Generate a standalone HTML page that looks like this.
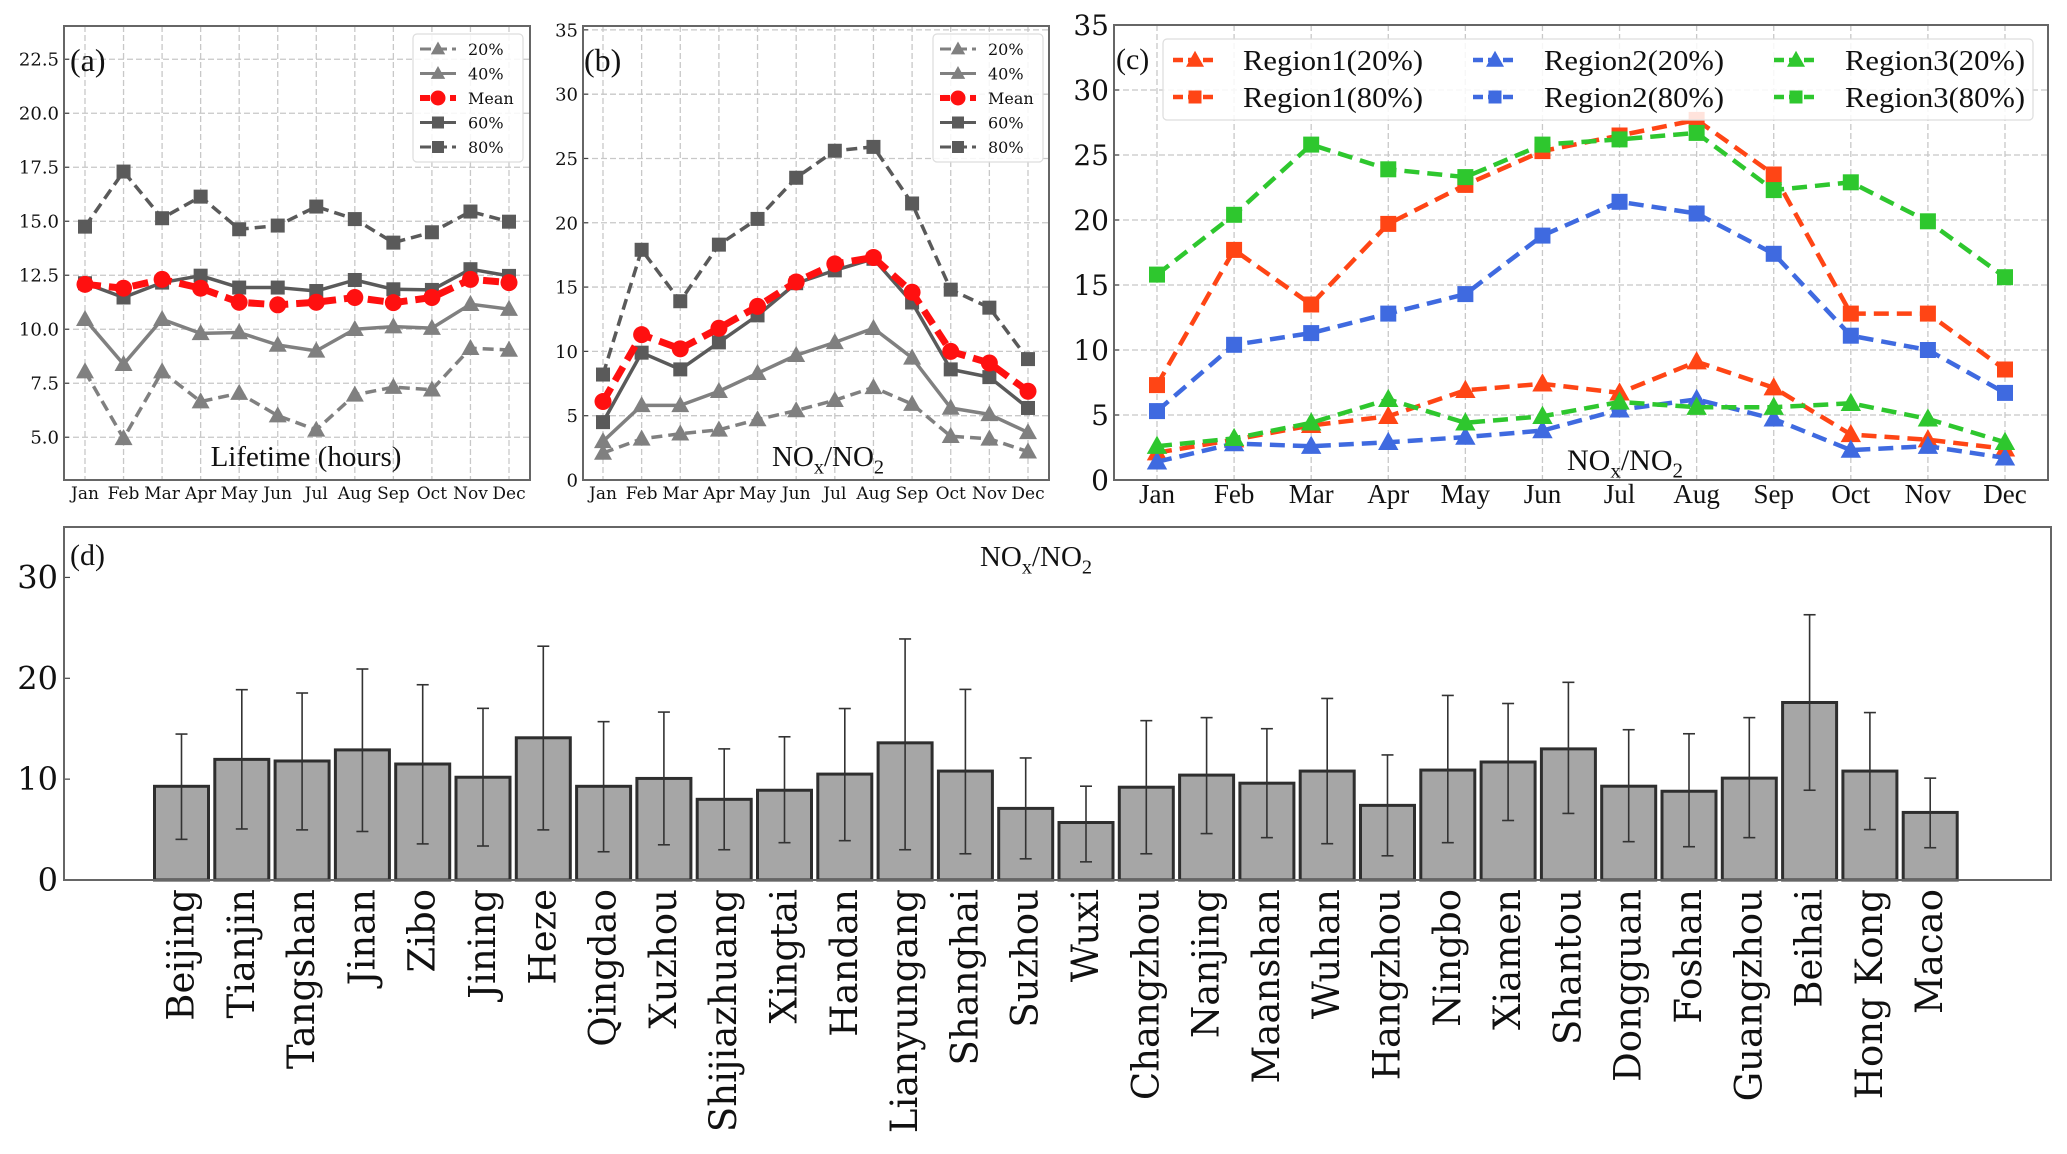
<!DOCTYPE html>
<html><head><meta charset="utf-8"><style>
html,body{margin:0;padding:0;background:#fff;}
svg{display:block;}
</style></head><body>
<svg id="fig" width="2067" height="1154" viewBox="0 0 2067 1154" xmlns="http://www.w3.org/2000/svg"></svg>
<script>
// ---------- data ----------
const months = ["Jan","Feb","Mar","Apr","May","Jun","Jul","Aug","Sep","Oct","Nov","Dec"];
// panel a: lifetime (hours)
const lifeP20 = [8.04,4.95,8.04,6.65,7.04,6.0,5.34,6.96,7.32,7.2,9.12,9.04];
const lifeP40 = [10.46,8.38,10.46,9.81,9.85,9.27,9.0,10.0,10.12,10.05,11.16,10.93];
const lifeMean = [12.08,11.9,12.31,11.9,11.25,11.13,11.25,11.47,11.23,11.47,12.31,12.16];
const lifeP60 = [12.13,11.47,12.16,12.48,11.93,11.93,11.77,12.28,11.85,11.82,12.78,12.47];
const lifeP80 = [14.75,17.3,15.14,16.14,14.63,14.8,15.68,15.1,14.01,14.49,15.45,14.98];
const lifeTicks = ["5.0","7.5","10.0","12.5","15.0","17.5","20.0","22.5"];
// panel b: NOx/NO2
const ratP20 = [2.1,3.2,3.6,3.9,4.7,5.4,6.2,7.2,5.9,3.4,3.2,2.2];
const ratP40 = [3.0,5.8,5.8,6.9,8.3,9.7,10.7,11.8,9.5,5.6,5.1,3.7];
const ratMean = [6.1,11.3,10.2,11.8,13.5,15.4,16.8,17.3,14.6,10.0,9.1,6.9];
const ratP60 = [4.5,9.9,8.6,10.7,12.8,15.3,16.3,17.2,13.8,8.6,8.0,5.6];
const ratP80 = [8.2,17.9,13.9,18.3,20.3,23.5,25.6,25.9,21.5,14.8,13.4,9.4];
const ratTicks = ["0","5","10","15","20","25","30","35"];
// panel c: regions
const r1p20 = [2.1,3.1,4.2,4.9,6.9,7.4,6.7,9.1,7.1,3.5,3.1,2.4];
const r1p80 = [7.3,17.7,13.5,19.7,22.7,25.3,26.5,27.7,23.5,12.8,12.8,8.5];
const r2p20 = [1.4,2.8,2.6,2.9,3.3,3.8,5.4,6.2,4.7,2.3,2.6,1.7];
const r2p80 = [5.3,10.4,11.3,12.8,14.3,18.8,21.4,20.5,17.4,11.1,10.0,6.7];
const r3p20 = [2.6,3.2,4.4,6.2,4.4,4.9,6.0,5.6,5.6,5.9,4.7,2.9];
const r3p80 = [15.8,20.4,25.8,23.9,23.3,25.8,26.2,26.7,22.3,22.9,19.9,15.6];
const regTicks = ["0","5","10","15","20","25","30","35"];
// panel d: cities
const cities = ["Beijing","Tianjin","Tangshan","Jinan","Zibo","Jining","Heze","Qingdao","Xuzhou","Shijiazhuang","Xingtai","Handan","Lianyungang","Shanghai","Suzhou","Wuxi","Changzhou","Nanjing","Maanshan","Wuhan","Hangzhou","Ningbo","Xiamen","Shantou","Dongguan","Foshan","Guangzhou","Beihai","Hong Kong","Macao"];
const cityMean = [9.29,11.96,11.8,12.9,11.5,10.19,14.1,9.29,10.07,8.0,8.9,10.5,13.6,10.8,7.1,5.7,9.2,10.4,9.6,10.8,7.4,10.9,11.7,13.0,9.3,8.8,10.1,17.6,10.8,6.7];
const cityHigh = [14.47,18.87,18.54,20.92,19.36,17.02,23.18,15.7,16.65,13.0,14.2,17.0,23.9,18.9,12.1,9.3,15.8,16.1,15.0,18.0,12.4,18.3,17.5,19.6,14.9,14.5,16.1,26.3,16.6,10.1];
const cityLow = [4.03,5.06,4.97,4.81,3.58,3.37,4.97,2.8,3.49,3.0,3.7,3.9,3.0,2.6,2.1,1.8,2.6,4.6,4.2,3.6,2.4,3.7,5.9,6.6,3.8,3.3,4.2,8.9,5.0,3.2];
const cityTicks = ["0","10","20","30"];

// ---------- helpers ----------
const NS = "http://www.w3.org/2000/svg";
const fig = document.getElementById("fig");
function mk(tag, attrs, parent){
  const e = document.createElementNS(NS, tag);
  for (const k in attrs) e.setAttribute(k, attrs[k]);
  (parent||fig).appendChild(e);
  return e;
}
function marker(g, kind, x, y, s, color){
  let m;
  if (kind === "tri"){
    m = mk("polygon",{points:`${x},${y-s*0.62} ${x-s*0.6},${y+s*0.45} ${x+s*0.6},${y+s*0.45}`,fill:color},g);
  } else if (kind === "sq"){
    m = mk("rect",{x:x-s/2,y:y-s/2,width:s,height:s,fill:color},g);
  } else {
    m = mk("circle",{cx:x,cy:y,r:s/2,fill:color},g);
  }
  
  
  return m;
}
function linePanel(cfg){
  const g = mk("g",{});
  
  
  const sy = v => cfg.y1 - (v - cfg.ymin)/(cfg.ymax - cfg.ymin)*(cfg.y1 - cfg.y0);
  const sx = i => cfg.xJan + i*(cfg.xDec - cfg.xJan)/11;
  cfg.ticks.forEach(t=>{
    const y = sy(parseFloat(t));
    if (y < cfg.y0+1 || y > cfg.y1-1) return;
    const gl = mk("line",{x1:cfg.x0,x2:cfg.x1,y1:y,y2:y,stroke:"#c8c8c8","stroke-width":1.3,"stroke-dasharray":"6,3"},g);
    
    
  });
  months.forEach((m,i)=>{
    const x = sx(i);
    const gl = mk("line",{x1:x,x2:x,y1:cfg.y0,y2:cfg.y1,stroke:"#c8c8c8","stroke-width":1.3,"stroke-dasharray":"6,3"},g);
    
    
  });
  cfg.ticks.forEach(t=>{
    const y = sy(parseFloat(t));
    const tm = mk("line",{x1:cfg.x0,x2:cfg.x0+5,y1:y,y2:y,stroke:"#444","stroke-width":1.2},g);
    
    
    const tx = mk("text",{x:cfg.x0-5,y:y+cfg.tf*0.36,"text-anchor":"end","font-family":"DejaVu Serif, serif","font-size":cfg.tf,fill:"#111"},g);
    tx.textContent = t;
    
    
  });
  months.forEach((m,i)=>{
    const tx = mk("text",{x:sx(i),y:cfg.y1+cfg.mf+cfg.mo,"text-anchor":"middle","font-family":cfg.mfam,"font-size":cfg.mf,fill:"#111"},g);
    tx.textContent = m;
    
    
  });
  cfg.series.forEach(s=>{
    const sg = mk("g",{},g);
    
    
    const pts = s.data.map((v,i)=>`${sx(i)},${sy(v)}`).join(" ");
    const pl = mk("polyline",{points:pts,fill:"none",stroke:s.color,"stroke-width":s.w,"stroke-dasharray":s.dash||"none","stroke-linejoin":"round"},sg);
    
    
    s.data.forEach((v,i)=>marker(sg, s.mk, sx(i), sy(v), s.ms, s.color));
  });
  const fr = mk("rect",{x:cfg.x0,y:cfg.y0,width:cfg.x1-cfg.x0,height:cfg.y1-cfg.y0,fill:"none",stroke:"#666","stroke-width":2},g);
  
  
  return g;
}
function legend(x,y,w,h,entries,opts){
  const g = mk("g",{});
  
  
  const bx = mk("rect",{x:x,y:y,width:w,height:h,rx:4,fill:"#fff","fill-opacity":0.85,stroke:"#ddd","stroke-width":1.2},g);
  
  
  entries.forEach(e=>{
    const eg = mk("g",{},g);
    
    
    mk("line",{x1:e.lx1,x2:e.lx2,y1:e.y,y2:e.y,stroke:e.color,"stroke-width":e.w,"stroke-dasharray":e.dash||"none"},eg);
    marker(eg, e.mk, (e.lx1+e.lx2)/2, e.y, e.ms, e.color);
    const t = mk("text",{x:e.tx,y:e.y+opts.fs*0.36,"font-family":opts.fam,"font-size":opts.fs,fill:"#111"},eg);
    if (opts.tl) t.setAttribute("textLength", opts.tl), t.setAttribute("lengthAdjust","spacingAndGlyphs");
    t.textContent = e.label;
  });
}
function txt(x,y,str,fs,fam,anchor,name){
  const t = mk("text",{x:x,y:y,"font-family":fam,"font-size":fs,"text-anchor":anchor||"start",fill:"#111"});
  t.textContent = str;
  
  
  return t;
}
function noxLabel(cx, y, fs, name){
  const t = mk("text",{x:cx,y:y,"font-family":"Liberation Serif, serif","font-size":fs,"text-anchor":"middle",fill:"#111"});
  
  
  t.innerHTML = 'NO<tspan dy="'+fs*0.25+'" font-size="'+fs*0.7+'">x</tspan><tspan dy="'+(-fs*0.25)+'">/NO</tspan><tspan dy="'+fs*0.25+'" font-size="'+fs*0.7+'">2</tspan>';
}
const GL = "#808080", GD = "#5a5a5a", RED = "#ff1010";
const SERIF = "Liberation Serif, serif";

// ---------- panel a ----------
linePanel({name:"panel-a-lifetime",x0:64,x1:530,y0:26,y1:480,ymin:3.02,ymax:24.04,xJan:85,xDec:509,
  ticks:lifeTicks,tf:18,mf:17,mo:2,mfam:"DejaVu Serif, serif",
  series:[
    {name:"p20-series",data:lifeP20,color:GL,w:3.5,dash:"11,6",mk:"tri",ms:15},
    {name:"p40-series",data:lifeP40,color:GL,w:3.5,mk:"tri",ms:15},
    {name:"p80-series",data:lifeP80,color:GD,w:3.5,dash:"11,6",mk:"sq",ms:14},
    {name:"p60-series",data:lifeP60,color:GD,w:3.5,mk:"sq",ms:14},
    {name:"mean-series",data:lifeMean,color:RED,w:7,dash:"16,8",mk:"circle",ms:17}
  ]});
txt(70,71,"(a)",32,SERIF,"start","panel-a-label");
txt(306,466,"Lifetime (hours)",29,SERIF,"middle","panel-a-title");
const legA = [["20%",GL,"11,5","tri",3],["40%",GL,"","tri",3],["Mean",RED,"10,5","circle",6],["60%",GD,"","sq",3],["80%",GD,"11,5","sq",3]];
legend(413,34,110,128,legA.map((e,i)=>({label:e[0],color:e[1],dash:e[2],mk:e[3],w:e[4],ms:e[3]==="circle"?15:12,y:49+i*24.5,lx1:420,lx2:456,tx:468})),{fs:16,fam:"DejaVu Serif, serif"});

// ---------- panel b ----------
linePanel({name:"panel-b-ratio",x0:583,x1:1049,y0:26,y1:480,ymin:0,ymax:35.3,xJan:603,xDec:1028,
  ticks:ratTicks,tf:18,mf:17,mo:2,mfam:"DejaVu Serif, serif",
  series:[
    {name:"p20-series",data:ratP20,color:GL,w:3.5,dash:"11,6",mk:"tri",ms:15},
    {name:"p40-series",data:ratP40,color:GL,w:3.5,mk:"tri",ms:15},
    {name:"p80-series",data:ratP80,color:GD,w:3.5,dash:"11,6",mk:"sq",ms:14},
    {name:"p60-series",data:ratP60,color:GD,w:3.5,mk:"sq",ms:14},
    {name:"mean-series",data:ratMean,color:RED,w:7,dash:"16,8",mk:"circle",ms:17}
  ]});
txt(584,71,"(b)",32,SERIF,"start","panel-b-label");
noxLabel(828,466,29,"panel-b-title");
legend(933,34,110,128,legA.map((e,i)=>({label:e[0],color:e[1],dash:e[2],mk:e[3],w:e[4],ms:e[3]==="circle"?15:12,y:49+i*24.5,lx1:940,lx2:976,tx:988})),{fs:16,fam:"DejaVu Serif, serif"});

// ---------- panel c ----------
const C1="#ff4515", C2="#3f6ae0", C3="#2ec72e";
linePanel({name:"panel-c-regions",x0:1114,x1:2048,y0:25,y1:480,ymin:0,ymax:35,xJan:1157,xDec:2005,
  ticks:regTicks,tf:28,mf:27,mo:-4,mfam:SERIF,
  series:[
    {name:"region1-p20",data:r1p20,color:C1,w:4.5,dash:"15,8",mk:"tri",ms:17},
    {name:"region1-p80",data:r1p80,color:C1,w:4.5,dash:"15,8",mk:"sq",ms:16},
    {name:"region2-p20",data:r2p20,color:C2,w:4.5,dash:"15,8",mk:"tri",ms:17},
    {name:"region2-p80",data:r2p80,color:C2,w:4.5,dash:"15,8",mk:"sq",ms:16},
    {name:"region3-p20",data:r3p20,color:C3,w:4.5,dash:"15,8",mk:"tri",ms:17},
    {name:"region3-p80",data:r3p80,color:C3,w:4.5,dash:"15,8",mk:"sq",ms:16}
  ]});
txt(1116,69,"(c)",30,SERIF,"start","panel-c-label");
noxLabel(1625,470,30,"panel-c-title");
const legC = [["Region1(20%)",C1,"tri",1173,1243,60],["Region1(80%)",C1,"sq",1173,1243,97],
  ["Region2(20%)",C2,"tri",1473,1544,60],["Region2(80%)",C2,"sq",1473,1544,97],
  ["Region3(20%)",C3,"tri",1774,1845,60],["Region3(80%)",C3,"sq",1774,1845,97]];
legend(1163,39,870,81,legC.map(e=>({label:e[0],color:e[1],mk:e[2],w:4.5,dash:"10,5",ms:e[2]==="tri"?15:13,y:e[5],lx1:e[3],lx2:e[3]+44,tx:e[4]})),{fs:28,fam:SERIF,tl:180});

// ---------- panel d ----------
(function(){
  const x0=64,x1=2051,y0=527,y1=880,ymin=0,ymax=35;
  const sy = v => y1 - (v-ymin)/(ymax-ymin)*(y1-y0);
  const sx = i => 181.5 + i*60.3;
  const bw = 54;
  const g = mk("g",{});
  
  
  cityTicks.forEach(t=>{
    const y = sy(parseFloat(t));
    const tm = mk("line",{x1:x0,x2:x0+6,y1:y,y2:y,stroke:"#444","stroke-width":1.2},g);
    
    
    const tx = mk("text",{x:x0-6,y:y+11,"text-anchor":"end","font-family":"DejaVu Serif, serif","font-size":32,fill:"#111"},g);
    tx.textContent = t;
    
    
  });
  cities.forEach((c,i)=>{
    const x = sx(i);
    const b = mk("rect",{x:x-bw/2,y:sy(cityMean[i]),width:bw,height:sy(0)-sy(cityMean[i]),fill:"#a6a6a6",stroke:"#2e2e2e","stroke-width":3},g);
    
    
    const eg = mk("g",{stroke:"#333","stroke-width":1.6},g);
    
    
    mk("line",{x1:x,x2:x,y1:sy(cityHigh[i]),y2:sy(cityLow[i])},eg);
    mk("line",{x1:x-6,x2:x+6,y1:sy(cityHigh[i]),y2:sy(cityHigh[i])},eg);
    mk("line",{x1:x-6,x2:x+6,y1:sy(cityLow[i]),y2:sy(cityLow[i])},eg);
    const tx = mk("text",{x:0,y:0,transform:`translate(${x+12},${y1+9}) rotate(-90)`,"text-anchor":"end","font-family":"DejaVu Serif, serif","font-size":37,fill:"#111"},g);
    tx.textContent = c;
    
    
  });
  const fr = mk("rect",{x:x0,y:y0,width:x1-x0,height:y1-y0,fill:"none",stroke:"#666","stroke-width":2},g);
  
  
})();
txt(70,565,"(d)",30,SERIF,"start","panel-d-label");
noxLabel(1036,566,29,"panel-d-title");
</script>
</body></html>
